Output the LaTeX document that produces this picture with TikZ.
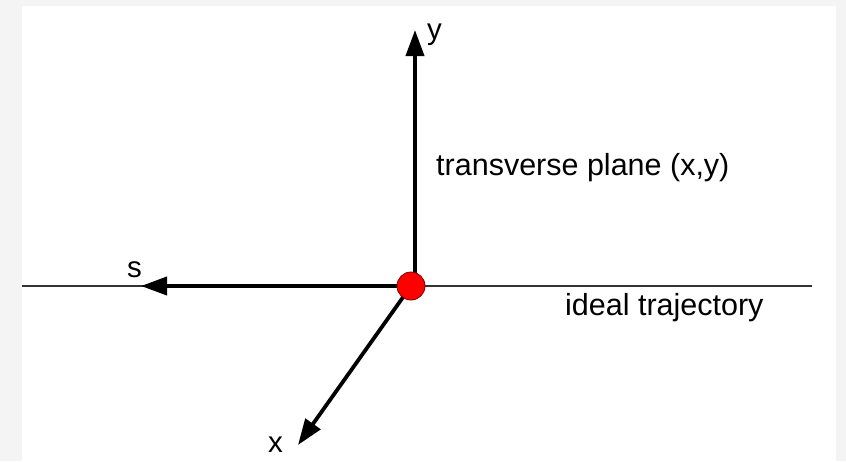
\documentclass[tikz,border=0pt]{standalone}
\usepackage{fontspec}
\setmainfont{Liberation Sans}
\usetikzlibrary{arrows.meta}
\definecolor{pagegrey}{HTML}{F4F4F5}
\definecolor{linegrey}{HTML}{333333}
\definecolor{dotred}{HTML}{FF0000}
\definecolor{dotedge}{HTML}{7A0000}
\begin{document}
\begin{tikzpicture}[x=1pt,y=-1pt,
  axis/.style={line width=3.8pt, draw=black, -{Triangle[length=26pt,width=18pt]}},
  track/.style={line width=1.3pt, draw=linegrey},
  lbl/.style={anchor=base west, inner sep=0pt, font=\fontsize{30.5}{36}\selectfont, text=black},
  axlbl/.style={lbl, font=\fontsize{29.5}{35}\selectfont},
  dot/.style={circle, fill=dotred, draw=dotedge, line width=0.8pt, minimum size=28pt, inner sep=0pt}]
  % background
  \fill[pagegrey] (0,0) rectangle (846,461);
  \fill[white] (22,6) rectangle (836,461);
  \useasboundingbox (0,0) rectangle (846,461);
  % coordinates
  \coordinate (O) at (411,286);
  \coordinate (Oy) at (415,286);
  \coordinate (hl) at (22,286);
  \coordinate (hr) at (812,286);
  \coordinate (ytip) at (415,30);
  \coordinate (stip) at (141,286);
  \coordinate (xtip) at (298,445);
  % ideal trajectory
  \draw[track] (hl) -- (hr);
  % axes
  \draw[axis] (Oy) -- (ytip);
  \draw[axis] (O) -- (stip);
  \draw[axis] (O) -- (xtip);
  % particle
  \node[dot] (o) at (O) {};
  % labels
  \node[axlbl] (ylab) at (427,39) {y};
  \node[axlbl] (slab) at (127,277) {s};
  \node[axlbl] (xlab) at (268,452) {x};
  \node[lbl] (tp) at (436,175) {transverse plane (x,y)};
  \node[lbl] (it) at (565,315) {ideal trajectory};
\end{tikzpicture}
\end{document}
